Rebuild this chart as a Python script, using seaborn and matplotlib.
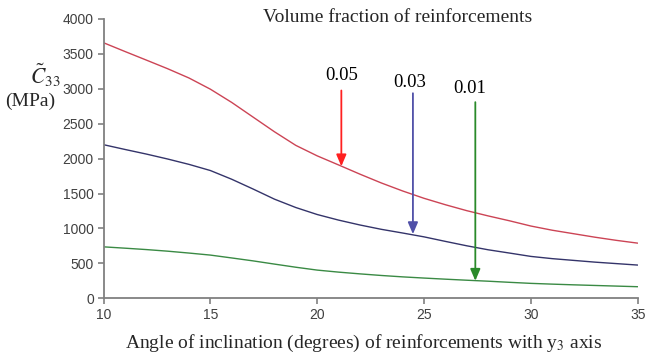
import numpy as np
import pandas as pd
import matplotlib
matplotlib.use("Agg")
import matplotlib.pyplot as plt
import seaborn as sns

# ---- data ----
angles = [10, 11, 12, 13, 14, 15, 16, 17, 18, 19, 20, 21, 22, 23, 24, 25,
          26, 27, 28, 29, 30, 31, 32, 33, 34, 35]
c33_005 = [3660, 3535, 3412, 3288, 3155, 2995, 2805, 2595, 2385, 2190, 2040,
           1910, 1778, 1652, 1537, 1432, 1340, 1255, 1180, 1110, 1035, 975,
           925, 875, 830, 790]
c33_003 = [2200, 2132, 2066, 1995, 1918, 1830, 1705, 1565, 1420, 1300, 1200,
           1120, 1050, 988, 935, 880, 815, 752, 695, 648, 600, 568, 543, 518,
           497, 476]
c33_001 = [737, 718, 698, 675, 648, 619, 578, 536, 490, 445, 404, 375, 350,
           327, 307, 290, 274, 259, 245, 229, 214, 203, 193, 184, 175, 166]
fractions = ["0.05", "0.03", "0.01"]
arrow_x = [21.13, 24.48, 27.4]
arrow_top = [2976, 2937, 2809]
arrow_tip = [1890, 919, 251]
label_x = [21.13, 24.32, 27.13]
label_y = [3190, 3094, 3004]
x_ticks = [10, 15, 20, 25, 30, 35]
y_ticks = [0, 500, 1000, 1500, 2000, 2500, 3000, 3500, 4000]

df = pd.DataFrame({
    "angle": angles * 3,
    "C33": c33_005 + c33_003 + c33_001,
    "fraction": [fractions[0]] * len(angles) + [fractions[1]] * len(angles)
                + [fractions[2]] * len(angles),
})

sns.set_style("white")
plt.rcParams["font.family"] = ["Liberation Serif", "DejaVu Serif"]
plt.rcParams["mathtext.fontset"] = "stix"

line_colors = {"0.05": "#cc4455", "0.03": "#34346a", "0.01": "#3a8a44"}
shaft_colors = ["#ff2020", "#5050a8", "#2a8a2a"]

fig = plt.figure(figsize=(6.51, 3.57), dpi=100)
ax = fig.add_axes([0.159, 0.1644, 0.8206, 0.7824])

sns.lineplot(data=df, x="angle", y="C33", hue="fraction", palette=line_colors,
             linewidth=1.0, legend=False, ax=ax)

ax.set_xlim(10, 35)
ax.set_ylim(0, 4000)
ax.set_xticks(x_ticks)
ax.set_yticks(y_ticks)
ax.set_xticklabels([str(t) for t in x_ticks], family="Liberation Sans",
                   fontsize=10, color="#404040")
ax.set_yticklabels([str(t) for t in y_ticks], family="Liberation Sans",
                   fontsize=10, color="#404040")
for s in ["top", "right"]:
    ax.spines[s].set_visible(False)
for s in ["left", "bottom"]:
    ax.spines[s].set_color("#808080")
    ax.spines[s].set_linewidth(1.3)
ax.tick_params(axis="both", which="major", direction="out", length=4,
               width=1.2, color="#808080", pad=3, bottom=True, left=True)
ax.set_xlabel("")
ax.set_ylabel("")

# arrows and labels
for i in range(3):
    ax.annotate("", xy=(arrow_x[i], arrow_tip[i]),
                xytext=(arrow_x[i], arrow_top[i]),
                arrowprops=dict(arrowstyle="-|>,head_length=0.7,head_width=0.3",
                                color=shaft_colors[i], lw=1.3,
                                shrinkA=0, shrinkB=0))
    ax.text(label_x[i], label_y[i], fractions[i], ha="center", va="center",
            fontsize=13.5, color="black")

fig.text(0.611, 0.95, "Volume fraction of reinforcements", ha="center",
         va="center", fontsize=14)
fig.text(0.07, 0.79, r"$\tilde{C}_{33}$", ha="center", va="center",
         fontsize=15.5)
fig.text(0.047, 0.717, "(MPa)", ha="center", va="center", fontsize=14)
fig.text(0.558, 0.038,
         r"Angle of inclination (degrees) of reinforcements with y$_3$ axis",
         ha="center", va="center", fontsize=14)

fig.savefig("out.png", dpi=100)
